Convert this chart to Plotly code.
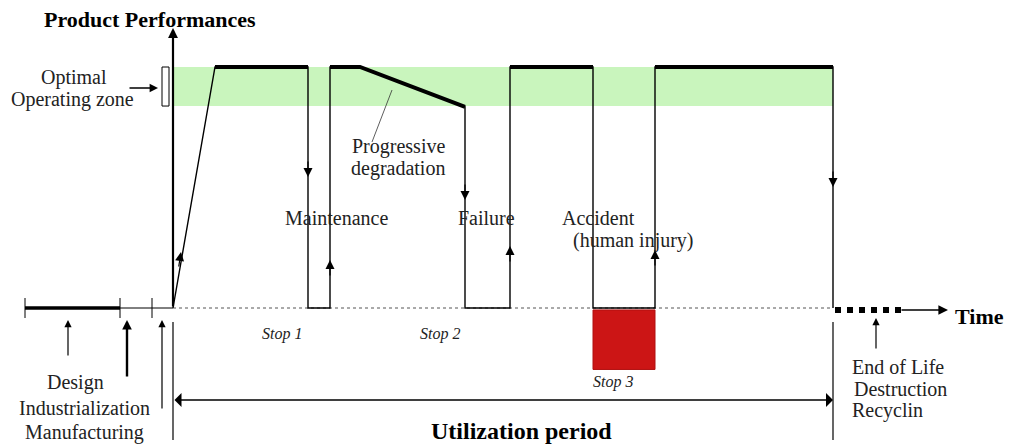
import plotly.graph_objects as go

# ---------------- data ----------------
# performance curve (time in arbitrary units, performance 0 = stop, 100 = optimal)
t_perf = [173, 215, 308, 308, 330, 330, 360, 465, 465, 510, 510, 593, 593, 655, 655, 833, 833]
perf = [0, 100, 100, 0, 0, 100, 100, 83.5, 0, 0, 100, 100, 0, 0, 100, 100, 0]
# thick "operating" segments
op_segments = [([215, 308], [100, 100]), ([330, 360, 465], [100, 100, 83.5]),
               ([510, 593], [100, 100]), ([655, 833], [100, 100])]
zone_low, zone_high = 83.8, 100
stop3_depth = -25.5
t_start, t_end = 173, 833

SCALE = 2.41  # px per performance unit
OFF = 8       # page body margin


def Y(p):
    return (308 - p) / SCALE


FONT = "Liberation Serif"
fig = go.Figure()

# optimal zone band
fig.add_shape(type="rect", x0=t_start, x1=t_end, y0=zone_low, y1=zone_high,
              fillcolor="#c9f5bd", line_width=0, layer="below")
# bracket box
fig.add_shape(type="rect", x0=162, x1=169, y0=zone_low, y1=zone_high,
              fillcolor="white", line=dict(color="black", width=1))
# stop 3 red box
fig.add_shape(type="rect", x0=593, x1=655, y0=stop3_depth, y1=-0.8,
              fillcolor="#cc1515", line=dict(color="#b01010", width=1))

# dotted baseline
fig.add_trace(go.Scatter(x=[t_start, t_end], y=[0, 0], mode="lines",
                         line=dict(color="#555", width=1, dash="dot"), hoverinfo="skip"))
# performance curve thin
fig.add_trace(go.Scatter(x=t_perf, y=perf, mode="lines",
                         line=dict(color="black", width=1.4), hoverinfo="skip"))
for xs, ys in op_segments:
    fig.add_trace(go.Scatter(x=xs, y=ys, mode="lines",
                             line=dict(color="black", width=4), hoverinfo="skip"))

# left timeline
fig.add_trace(go.Scatter(x=[25, 120], y=[0, 0], mode="lines",
                         line=dict(color="black", width=3.5), hoverinfo="skip"))
fig.add_trace(go.Scatter(x=[120, 173], y=[0, 0], mode="lines",
                         line=dict(color="black", width=1), hoverinfo="skip"))
for tx in [25, 120, 152]:
    fig.add_trace(go.Scatter(x=[tx, tx], y=[Y(298), Y(318)], mode="lines",
                             line=dict(color="black", width=1), hoverinfo="skip"))

# end of life dashed
fig.add_trace(go.Scatter(x=[835, 905], y=[Y(310), Y(310)], mode="lines",
                         line=dict(color="black", width=6, dash="dot"), hoverinfo="skip"))

# boundary vertical lines below axis
for tx in [t_start, t_end]:
    fig.add_trace(go.Scatter(x=[tx, tx], y=[Y(322), Y(440)], mode="lines",
                             line=dict(color="black", width=1.2), hoverinfo="skip"))
# leader for progressive degradation
fig.add_trace(go.Scatter(x=[392, 372], y=[Y(90), Y(142)], mode="lines",
                         line=dict(color="#333", width=0.8), hoverinfo="skip"))

anns = []


def arrow(x, y, ax, ay, w=1.2, head=2, size=1.2, side=None, color="black"):
    d = dict(x=x, y=y, ax=ax, ay=ay, xref="x", yref="y", axref="x", ayref="y",
             showarrow=True, arrowhead=head, arrowsize=size, arrowwidth=w,
             arrowcolor=color, text="")
    if side:
        d["arrowside"] = side
    anns.append(d)


# vertical performance axis
arrow(173, Y(28), 173, 0, w=2.2, head=2, size=0.9)
# ramp arrow
arrow(181, Y(252), 178.5, Y(268), w=1.2, size=1.5)
# mid-line arrows
arrow(308, Y(177), 308, Y(160), w=1.2, size=1.5)
arrow(330, Y(260), 330, Y(277), w=1.2, size=1.5)
arrow(465, Y(200), 465, Y(183), w=1.2, size=1.5)
arrow(510, Y(246), 510, Y(263), w=1.2, size=1.5)
arrow(655, Y(250), 655, Y(267), w=1.2, size=1.5)
arrow(833, Y(187), 833, Y(170), w=1.2, size=1.5)
# time arrow
arrow(948, Y(310), 900, Y(310), w=1.6, size=1.2)
# optimal zone arrow
arrow(158, Y(88), 128, Y(88), w=1.4, size=1.2)
# utilization double arrow
arrow(t_end, Y(400), t_start, Y(400), w=1.3, head=1, size=1.8, side="end+start")
# phase arrows
arrow(68, Y(320), 68, Y(357), w=1.2, size=1.2)
arrow(127, Y(320), 127, Y(378), w=2.4, size=0.8)
arrow(162, Y(320), 162, Y(410), w=1.2, size=1.2)
arrow(876, Y(318), 876, Y(350), w=1.2, size=1.2)


def label(text, x, py, size=17, bold=False, italic=False, anchor="center", color="#222"):
    t = text
    if bold:
        t = "<b>" + t + "</b>"
    if italic:
        t = "<i>" + t + "</i>"
    anns.append(dict(x=x, y=Y(py), xref="x", yref="y", text=t, showarrow=False,
                     xanchor=anchor, yanchor="middle",
                     font=dict(family=FONT, size=size, color=color)))


label("Product Performances", 150, 19, size=22, bold=True, color="black")
label("Optimal", 74, 77, size=20)
label("Operating zone", 72, 99, size=20)
label("Progressive", 398, 146, size=20)
label("degradation", 398, 168, size=20)
label("Maintenance", 336, 218, size=20)
label("Failure", 486, 218, size=20)
label("Accident", 598, 218, size=20)
label("(human injury)", 633, 240, size=20)
label("Stop 1", 282, 334, size=16, italic=True)
label("Stop 2", 440, 334, size=16, italic=True)
label("Stop 3", 613, 382, size=16, italic=True)
label("Time", 979, 316, size=22, bold=True, color="black")
label("End of Life", 898, 367, size=20)
label("Destruction", 900, 389, size=20)
label("Recyclin", 887, 410, size=20)
label("Design", 75, 382, size=20)
label("Industrialization", 84, 408, size=20)
label("Manufacturing", 84, 432, size=20)
label("Utilization period", 521, 431, size=24, bold=True, color="black")

fig.update_layout(
    width=1012 - OFF, height=445 - OFF, margin=dict(l=0, r=0, t=0, b=0),
    paper_bgcolor="white", plot_bgcolor="white", showlegend=False,
    annotations=anns,
    xaxis=dict(range=[OFF, 1012], visible=False, fixedrange=True),
    yaxis=dict(range=[Y(445), Y(OFF)], visible=False, fixedrange=True),
)
fig.write_html("out.html")
